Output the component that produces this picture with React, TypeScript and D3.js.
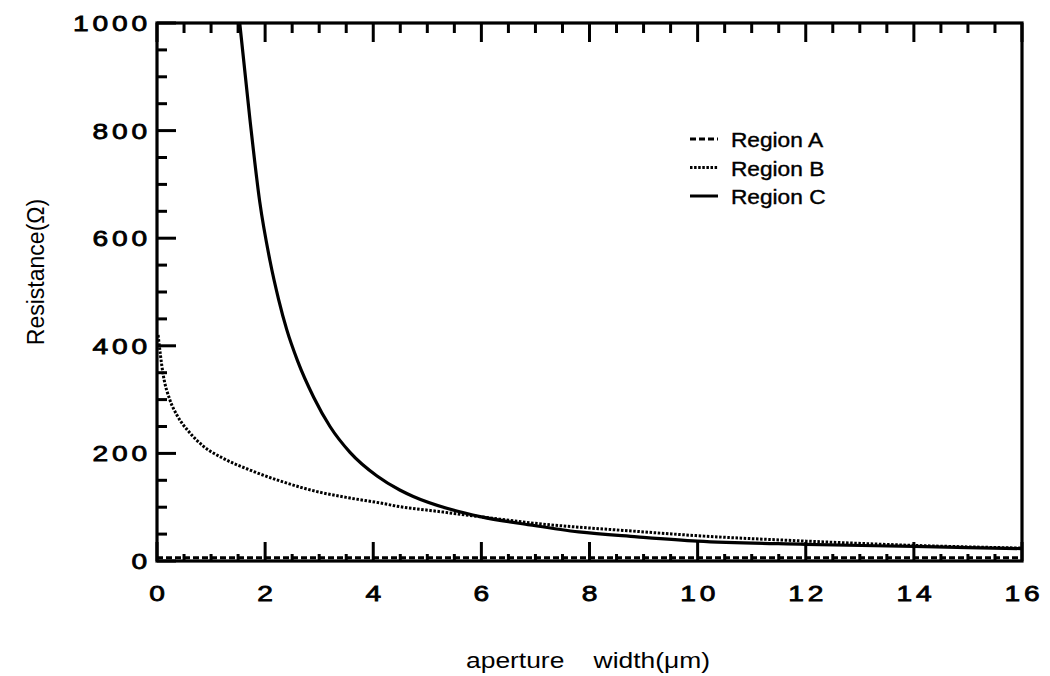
import React from "react";
import * as d3 from "d3";

const regionA_x = [0, 4, 8, 12, 16];
const regionA_y = [6, 6, 6, 6, 6];

const regionB_x = [0.02, 0.11, 0.24, 0.37, 0.61, 0.85, 1.22, 1.72, 2.33, 2.96, 3.57, 4.12, 4.49, 5.05, 6.0, 6.9, 8.88, 10, 12, 14, 16];
const regionB_y = [420, 349, 299, 271, 238, 214, 191, 169, 147, 129, 117, 108, 101, 94, 82, 71, 55, 47, 37, 29, 24];

const regionC_x = [1.53, 1.72, 1.9, 2.09, 2.25, 2.4, 2.6, 2.9, 3.2, 3.57, 4.07, 4.49, 4.74, 5.36, 6.0, 6.9, 7.8, 8.88, 10, 12, 14, 16];
const regionC_y = [1000, 820, 668, 558, 486, 430, 372, 304, 250, 202, 158, 132, 120, 98, 82, 67, 54, 45, 37, 31, 27, 23];

const xTicks = [0, 2, 4, 6, 8, 10, 12, 14, 16];
const yTicks = [0, 200, 400, 600, 800, 1000];
const legendLabels = ["Region A", "Region B", "Region C"];
const xTitle = "aperture    width(\u03bcm)";
const yTitle = "Resistance(\u03a9)";

export default function App() {
  const W = 1050, H = 676;
  const x = d3.scaleLinear().domain([0, 16]).range([157, 1022]);
  const y = d3.scaleLinear().domain([0, 1000]).range([561, 23]);
  const line = d3.line<[number, number]>().x(d => x(d[0])).y(d => y(d[1])).curve(d3.curveMonotoneX);

  const A = regionA_x.map((v, i) => [v, regionA_y[i]] as [number, number]);
  const B = regionB_x.map((v, i) => [v, regionB_y[i]] as [number, number]);
  const C = regionC_x.map((v, i) => [v, regionC_y[i]] as [number, number]);

  const xMinor = d3.range(0, 16.001, 0.5);
  const yMinor = d3.range(0, 1000.001, 50);
  const isMajX = (v: number) => Math.abs(v / 2 - Math.round(v / 2)) < 1e-6;
  const isMajY = (v: number) => Math.abs(v / 200 - Math.round(v / 200)) < 1e-6;

  const font = "'Liberation Sans', Arial, Helvetica, sans-serif";
  const sx = 1.28;
  const styles = [
    { dash: "6,3", w: 3 },
    { dash: "2.5,1.6", w: 3 },
    { dash: null as string | null, w: 3 },
  ];

  return (
    <svg width={W} height={H} style={{ position: "absolute", left: 0, top: 0, background: "#fff" }}>
      <rect x={0} y={0} width={W} height={H} fill="#fff" />
      {/* curves */}
      <path d={line(A) || ""} fill="none" stroke="#000" strokeWidth={3} strokeDasharray="6,3" />
      <path d={line(B) || ""} fill="none" stroke="#000" strokeWidth={3} strokeDasharray="2.5,1.6" />
      <path d={line(C) || ""} fill="none" stroke="#000" strokeWidth={3.2} />

      {/* frame */}
      <rect x={x(0)} y={y(1000)} width={x(16) - x(0)} height={y(0) - y(1000)} fill="none" stroke="#000" strokeWidth={3.2} />

      {/* top ticks */}
      {xMinor.map((v, i) => (
        <line key={"t" + i} x1={x(v)} x2={x(v)} y1={y(1000)} y2={y(1000) + (isMajX(v) ? 19 : 10)} stroke="#000" strokeWidth={3} />
      ))}
      {/* bottom ticks */}
      {xMinor.map((v, i) => (
        <line key={"b" + i} x1={x(v)} x2={x(v)} y1={y(0)} y2={y(0) - (isMajX(v) ? 19 : 7)} stroke="#000" strokeWidth={3} />
      ))}
      {/* left ticks */}
      {yMinor.map((v, i) => (
        <line key={"l" + i} x1={x(0)} x2={x(0) + (isMajY(v) ? 19 : 10)} y1={y(v)} y2={y(v)} stroke="#000" strokeWidth={3} />
      ))}

      {/* x tick labels */}
      {xTicks.map((v, i) => (
        <text key={"xl" + i} transform={`translate(${x(v) + 2},${601}) scale(${sx},1)`} textAnchor="middle"
          fontFamily={font} fontSize={22} letterSpacing={3} fill="#000" stroke="#000" strokeWidth={0.8}>{String(v)}</text>
      ))}
      {/* y tick labels */}
      {yTicks.map((v, i) => (
        <text key={"yl" + i} transform={`translate(${151},${y(v) + 8}) scale(${sx},1)`} textAnchor="end"
          fontFamily={font} fontSize={22} letterSpacing={3} fill="#000" stroke="#000" strokeWidth={0.8}>{String(v)}</text>
      ))}

      {/* titles */}
      <text transform={`translate(588,668) scale(1.2,1)`} textAnchor="middle" fontFamily={font} fontSize={22}
        style={{ whiteSpace: "pre" }} fill="#000">{xTitle}</text>
      <text transform={`translate(44,272) rotate(-90)`} textAnchor="middle" fontFamily={font} fontSize={23} fill="#000">{yTitle}</text>

      {/* legend */}
      {legendLabels.map((lab, i) => {
        const by = 147 + i * 28.5;
        const st = styles[i];
        return (
          <g key={"lg" + i}>
            <line x1={690} x2={718} y1={by - 8} y2={by - 8} stroke="#000" strokeWidth={st.w}
              strokeDasharray={st.dash || undefined} />
            <text transform={`translate(731,${by}) scale(1.08,1)`} fontFamily={font} fontSize={21} fill="#000"
              stroke="#000" strokeWidth={0.4}>{lab}</text>
          </g>
        );
      })}
    </svg>
  );
}
